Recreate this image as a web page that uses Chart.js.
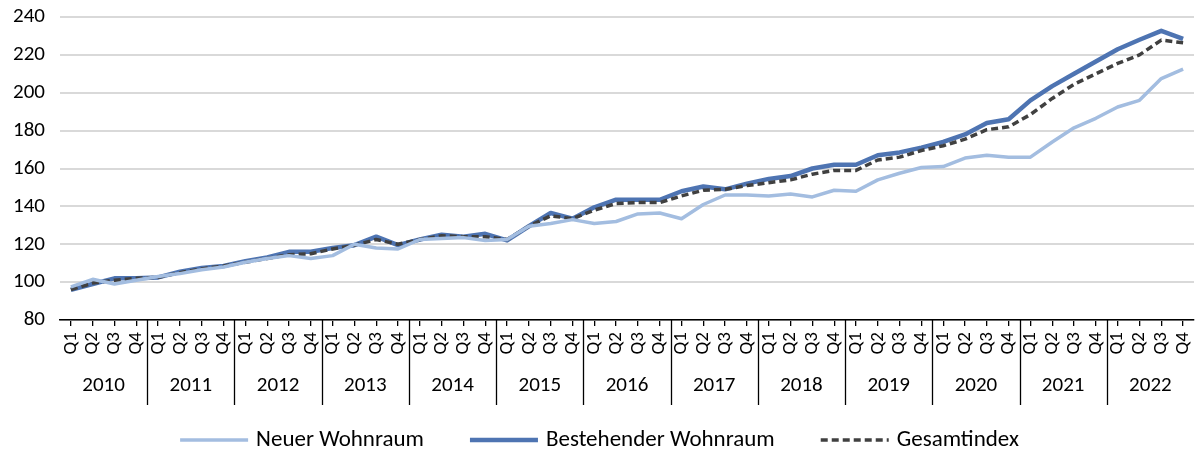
<!DOCTYPE html>
<html lang="de">
<head>
<meta charset="utf-8">
<title>Wohnimmobilienpreisindex</title>
<script src="https://cdn.jsdelivr.net/npm/chart.js@4.4.1/dist/chart.umd.min.js"></script>
<style>
  html, body { margin: 0; padding: 0; background: #fff; }
</style>
</head>
<body>
<canvas id="chart" width="1199" height="455"></canvas>
<script>
// Daten
const years = [2010, 2011, 2012, 2013, 2014, 2015, 2016, 2017, 2018, 2019, 2020, 2021, 2022];
const quarters = ['Q1', 'Q2', 'Q3', 'Q4'];
const yTicks = [80, 100, 120, 140, 160, 180, 200, 220, 240];

const neuerWohnraum = [
  97.5, 101.5, 99, 101,
  103, 104.5, 106.5, 108,
  110.5, 112.5, 114, 112.5,
  114, 120, 118, 117.5,
  122.5, 123, 123.5, 122,
  122.5, 129.5, 131, 133,
  131, 132, 136, 136.5,
  133.5, 141, 146, 146,
  145.5, 146.5, 145, 148.5,
  148, 154, 157.5, 160.5,
  161, 165.5, 167, 166,
  166, 174, 181.5, 186.5,
  192.5, 196, 207.5, 212.5
];
const bestehenderWohnraum = [
  96, 99, 102, 102,
  102.5, 105.5, 107.5, 108.5,
  111, 113, 116, 116,
  118, 119.5, 124, 119.5,
  122.5, 125, 124, 125.5,
  122, 129.5, 136.5, 133.5,
  139.5, 143.5, 143.5, 143.5,
  148, 150.5, 149, 152,
  154.5, 156, 160, 162,
  162, 167, 168.5, 171,
  174, 178, 184, 186,
  196, 203.5, 210, 216.5,
  223, 228, 232.7, 228.4
];
const gesamtindex = [
  96, 99.5, 101, 102,
  102.5, 105, 107, 108.5,
  110.5, 112.5, 114.5, 115,
  117.5, 119.5, 122.5, 120,
  122.5, 124.5, 124, 124,
  122.5, 129.5, 135, 133.5,
  138, 141.5, 142, 142,
  145.5, 148.5, 149, 151,
  152.5, 154, 157, 159,
  159, 164.5, 166, 169.5,
  172, 175.5, 180.5, 182,
  188.5, 197, 204.5, 210,
  215.5, 220, 227.8, 226.4
];

const labels = [];
years.forEach(() => quarters.forEach(q => labels.push(q)));

const FONT = 'Carlito, Calibri, Lato, sans-serif';

// Jahreszeile unter den Quartalen + Legende
const yearAxis = {
  id: 'yearAxis',
  afterDraw(chart) {
    const ctx = chart.ctx;
    const x = chart.scales.x;
    const base = chart.chartArea.bottom;
    ctx.save();
    ctx.strokeStyle = '#000';
    ctx.lineWidth = 1.3;
    ctx.fillStyle = '#000';
    ctx.font = '21px ' + FONT;
    ctx.textAlign = 'center';
    ctx.textBaseline = 'middle';
    years.forEach((yr, i) => {
      const a = x.getPixelForValue(i * 4);
      const b = x.getPixelForValue(i * 4 + 3);
      ctx.fillText(String(yr), (a + b) / 2, base + 66);
      if (i > 0) {
        const sx = Math.round((a + x.getPixelForValue(i * 4 - 1)) / 2) + 0.5;
        ctx.beginPath();
        ctx.moveTo(sx, base);
        ctx.lineTo(sx, base + 85);
        ctx.stroke();
      }
    });

    // Legende
    const lineLen = 68, gap = 8, spacing = 46, ly = 440;
    ctx.font = '23px ' + FONT;
    ctx.textAlign = 'left';
    const items = chart.data.datasets.map(ds => ({ ds, w: lineLen + gap + ctx.measureText(ds.label).width }));
    const total = items.reduce((s, it) => s + it.w, 0) + spacing * (items.length - 1);
    let cx = (chart.width - total) / 2;
    items.forEach(it => {
      ctx.beginPath();
      ctx.strokeStyle = it.ds.borderColor;
      ctx.lineWidth = it.ds.borderWidth;
      ctx.setLineDash(it.ds.borderDash || []);
      ctx.moveTo(cx, ly);
      ctx.lineTo(cx + lineLen, ly);
      ctx.stroke();
      ctx.setLineDash([]);
      ctx.fillText(it.ds.label, cx + lineLen + gap, ly);
      cx += it.w + spacing;
    });
    ctx.restore();
  }
};

new Chart(document.getElementById('chart'), {
  type: 'line',
  data: {
    labels: labels,
    datasets: [
      {
        label: 'Neuer Wohnraum',
        data: neuerWohnraum,
        borderColor: '#a3bde0',
        borderWidth: 3.5,
        order: 0
      },
      {
        label: 'Bestehender Wohnraum',
        data: bestehenderWohnraum,
        borderColor: '#4e74b2',
        borderWidth: 4.5,
        order: 2
      },
      {
        label: 'Gesamtindex',
        data: gesamtindex,
        borderColor: '#404040',
        borderWidth: 3.5,
        borderDash: [7, 4],
        order: 1
      }
    ]
  },
  options: {
    responsive: false,
    animation: false,
    layout: { padding: { top: 17, right: 5, bottom: 45, left: 0 } },
    elements: {
      point: { radius: 0 },
      line: { tension: 0, fill: false, borderCapStyle: 'butt', borderJoinStyle: 'round' }
    },
    plugins: {
      legend: { display: false },
      tooltip: { enabled: false }
    },
    scales: {
      x: {
        type: 'category',
        offset: true,
        grid: {
          display: true,
          drawOnChartArea: false,
          drawTicks: true,
          tickLength: 6,
          offset: false,
          color: '#000',
          lineWidth: 1.3
        },
        border: { display: true, color: '#000', width: 1.5 },
        ticks: {
          autoSkip: false,
          minRotation: 90,
          maxRotation: 90,
          padding: 6,
          color: '#000',
          font: { family: FONT, size: 19 }
        },
        afterFit(scale) { scale.height = 90; scale.paddingLeft = 0; scale.paddingRight = 0; }
      },
      y: {
        min: 80,
        max: 240,
        afterBuildTicks(scale) { scale.ticks = yTicks.map(v => ({ value: v })); },
        grid: { color: '#d9d9d9', lineWidth: 2, drawTicks: false },
        border: { display: false },
        ticks: {
          padding: 15,
          color: '#000',
          font: { family: FONT, size: 21 }
        },
        afterFit(scale) { scale.width = 60; scale.paddingTop = 0; scale.paddingBottom = 0; }
      }
    }
  },
  plugins: [yearAxis]
});
</script>
</body>
</html>
